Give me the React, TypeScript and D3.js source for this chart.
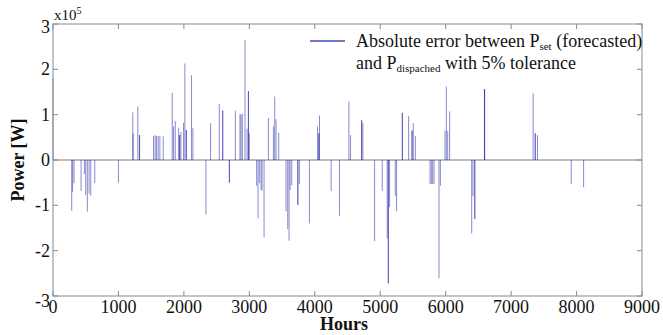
import React from "react";
import * as d3 from "d3";

const hours: number[] = [
  0, 286, 300, 321, 429, 480, 500, 525, 551, 577, 638, 1000,
  1219, 1225, 1296, 1321, 1323, 1536, 1561, 1582, 1607, 1633, 1684,
  1822, 1842, 1868, 1919, 1934, 1936, 1954, 1995, 2015, 2036, 2038, 2117, 2138,
  2337, 2408, 2541, 2592, 2594, 2694, 2696, 2786, 2857, 2873, 2893, 2934, 2965, 2985, 2987, 3000,
  3112, 3133, 3153, 3179, 3194, 3225, 3291, 3368, 3388, 3408, 3449,
  3561, 3587, 3607, 3623, 3648, 3740, 3742, 3765, 3918, 4041, 4061, 4063, 4072,
  4250, 4378, 4521, 4546, 4715, 4717, 4735, 4914, 5031, 5107, 5123, 5125, 5143, 5230, 5250,
  5337, 5339, 5434, 5485, 5487, 5505, 5536, 5761, 5781, 5801, 5822, 5898, 5919,
  5990, 6010, 6031, 6061, 6398, 6418, 6444, 6446, 6592, 6594, 6596,
  7337, 7368, 7370, 7403, 7919, 8108,
];

const errors: number[] = [
  180000, -112000, -70000, -51000, -68000, -31000, -77000, -114000, -74000, -79000, -51000, -50000,
  105000, 59000, 118000, 55000, 55000, 53000, 55000, 53000, 53000, 53000, 52000,
  148000, 74000, 86000, 71000, 55000, 55000, 62000, 82000, 213000, 66000, 66000, 187000, 70000,
  -120000, 81000, 124000, 109000, 109000, -50000, -50000, 109000, 101000, 101000, 102000, 265000, 69000, 152000, 152000, 59000,
  -57000, -129000, -51000, -66000, -68000, -171000, 93000, 74000, 140000, 90000, 60000,
  -113000, -152000, -178000, -66000, -56000, -99000, -99000, -53000, -140000, 74000, 59000, 59000, 98000,
  -69000, -123000, 129000, 55000, 88000, 88000, 81000, -179000, -68000, -173000, -272000, -272000, -104000, -79000, -113000,
  104000, 104000, 97000, 65000, 65000, 81000, 53000, -53000, -53000, -53000, -53000, -261000, -57000,
  65000, 162000, 64000, 107000, -162000, -80000, -130000, -130000, 156000, 156000, 156000,
  147000, 59000, 59000, 55000, -53000, -60000,
];

const xTicks: number[] = [0, 1000, 2000, 3000, 4000, 5000, 6000, 7000, 8000, 9000];
const yTicks: number[] = [-3, -2, -1, 0, 1, 2, 3];

const W = 663;
const H = 335;
const L = 53;
const R = 642;
const T = 24;
const B = 296;
const FONT = "'Liberation Serif', 'DejaVu Serif', serif";

export default function App() {
  const x = d3.scaleLinear().domain([0, 9000]).range([L, R]);
  const y = d3.scaleLinear().domain([-3e5, 3e5]).range([B, T]);
  const frame = "#8a8a8a";
  const tk = 5;

  return (
    <svg
      width={W}
      height={H}
      style={{ position: "absolute", left: 0, top: 0, background: "#fff" }}
      fontFamily={FONT}
    >
      <rect x={0} y={0} width={W} height={H} fill="#fff" />
      <line x1={L} x2={R} y1={y(0)} y2={y(0)} stroke="#7a7a7a" strokeWidth={1.2} />
      {hours.map((h, i) => (
        <line
          key={i}
          x1={x(h)}
          x2={x(h)}
          y1={y(0)}
          y2={y(errors[i])}
          stroke="#2828a8"
          strokeOpacity={0.55}
          strokeWidth={1}
        />
      ))}
      <rect x={L} y={T} width={R - L} height={B - T} fill="none" stroke={frame} strokeWidth={1} />
      {xTicks.map((t) => (
        <g key={"x" + t}>
          <line x1={x(t)} x2={x(t)} y1={B} y2={B - tk} stroke={frame} />
          <line x1={x(t)} x2={x(t)} y1={T} y2={T + tk} stroke={frame} />
          <text x={x(t)} y={B + 17} textAnchor="middle" fontSize={18} fill="#111">
            {t}
          </text>
        </g>
      ))}
      {yTicks.map((t) => {
        const off = t === 3 ? 9 : t === -3 ? 11 : 6;
        return (
          <g key={"y" + t}>
            <line x1={L} x2={L + tk} y1={y(t * 1e5)} y2={y(t * 1e5)} stroke={frame} />
            <line x1={R} x2={R - tk} y1={y(t * 1e5)} y2={y(t * 1e5)} stroke={frame} />
            <text x={L - 3} y={y(t * 1e5) + off} textAnchor="end" fontSize={18} fill="#111">
              {t}
            </text>
          </g>
        );
      })}
      <text x={54} y={20} fontSize={15} fill="#111">
        x10<tspan dy={-6} fontSize={10}>5</tspan>
      </text>
      <text
        transform={`translate(24,${(T + B) / 2}) rotate(-90)`}
        textAnchor="middle"
        fontSize={18}
        fontWeight="bold"
        fill="#111"
      >
        Power [W]
      </text>
      <text x={344} y={330} textAnchor="middle" fontSize={18} fontWeight="bold" fill="#111">
        Hours
      </text>
      <line x1={310} x2={345} y1={41} y2={41} stroke="#3b4cc0" strokeWidth={1.5} />
      <text x={356} y={47} fontSize={18} fill="#111">
        Absolute error between P<tspan fontSize={11} dy={3}>set</tspan>
        <tspan dy={-3}> (forecasted)</tspan>
      </text>
      <text x={356} y={69} fontSize={18} fill="#111">
        and P<tspan fontSize={11} dy={3}>dispached</tspan>
        <tspan dy={-3}> with 5% tolerance</tspan>
      </text>
    </svg>
  );
}
